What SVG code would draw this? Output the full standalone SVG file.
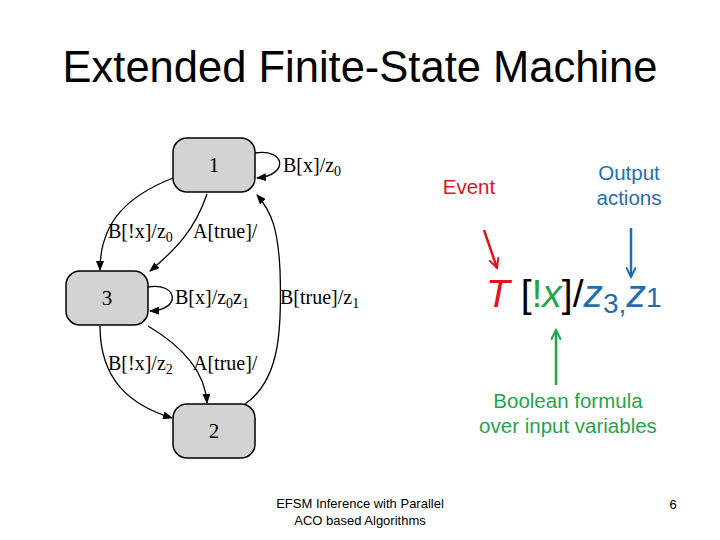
<svg xmlns="http://www.w3.org/2000/svg" width="720" height="540" viewBox="0 0 720 540">
<style>
.node{fill:#d3d3d3;stroke:#000;stroke-width:1.5}
.nl{font-family:"Liberation Serif",serif;font-size:21px;text-anchor:middle}
.el{font-family:"Liberation Serif",serif;font-size:20px}
.e{fill:none;stroke:#000;stroke-width:1.3;marker-end:url(#ah)}
.s{font-family:"Liberation Sans",Arial,sans-serif}
</style>
<defs>
<marker id="ah" markerWidth="10" markerHeight="8" refX="9" refY="4" orient="auto" markerUnits="userSpaceOnUse"><path d="M0,0L10,4L0,8z" fill="#000"/></marker>
<marker id="ar" markerWidth="12" markerHeight="10" refX="10" refY="5" orient="auto" markerUnits="userSpaceOnUse"><path d="M0,0L10,5L0,10" fill="none" stroke="#e0141e" stroke-width="2"/></marker>
<marker id="ab" markerWidth="12" markerHeight="10" refX="10" refY="5" orient="auto" markerUnits="userSpaceOnUse"><path d="M0,0L10,5L0,10" fill="none" stroke="#1f6eb4" stroke-width="2"/></marker>
<marker id="ag" markerWidth="12" markerHeight="10" refX="10" refY="5" orient="auto" markerUnits="userSpaceOnUse"><path d="M0,0L10,5L0,10" fill="none" stroke="#1fa54a" stroke-width="2"/></marker>
</defs>
<rect width="720" height="540" fill="#fff"/>
<text x="360" y="82" class="s" font-size="43.5" text-anchor="middle">Extended Finite-State Machine</text>
<g id="connectors">
<path class="e" d="M255,153 C285,148 290,175 257,178"/>
<path class="e" d="M173,178 C130,195 100,220 100,270"/>
<path class="e" d="M207,194 C195,230 175,250 150,271"/>
<path class="e" d="M148,287 C178,282 182,310 150,311"/>
<path class="e" d="M100,326 C100,380 130,405 172,418"/>
<path class="e" d="M148,326 C180,345 205,370 207,403"/>
<path class="e" d="M245,404 C280,380 282,330 280,270 C278,230 272,212 257,195"/>
<text class="el" x="283" y="172">B[x]/z<tspan font-size="14" dy="4">0</tspan></text>
<text class="el" x="108" y="238">B[!x]/z<tspan font-size="14" dy="4">0</tspan></text>
<text class="el" x="193" y="238">A[true]/</text>
<text class="el" x="175" y="304">B[x]/z<tspan font-size="14" dy="4">0</tspan><tspan dy="-4">z</tspan><tspan font-size="14" dy="4">1</tspan></text>
<text class="el" x="280" y="304">B[true]/z<tspan font-size="14" dy="4">1</tspan></text>
<text class="el" x="108" y="370">B[!x]/z<tspan font-size="14" dy="4">2</tspan></text>
<text class="el" x="193" y="370">A[true]/</text>
</g>
<g id="n1"><rect class="node" x="173" y="138" width="82" height="54" rx="14"/><text class="nl" x="214" y="172">1</text></g>
<g id="n3"><rect class="node" x="66" y="271" width="82" height="54" rx="14"/><text class="nl" x="107" y="305">3</text></g>
<g id="n2"><rect class="node" x="173" y="404" width="82" height="54" rx="14"/><text class="nl" x="214" y="438">2</text></g>
<g id="legend">
<text x="469" y="194" class="s" font-size="20.5" fill="#e0141e" text-anchor="middle">Event</text>
<text x="629" y="180" class="s" font-size="20.5" fill="#1f6eb4" text-anchor="middle">Output</text>
<text x="629" y="205" class="s" font-size="20.5" fill="#1f6eb4" text-anchor="middle">actions</text>
<line x1="484" y1="230" x2="497" y2="268" stroke="#e0141e" stroke-width="2.5" marker-end="url(#ar)"/>
<line x1="631" y1="228" x2="631" y2="277" stroke="#1f6eb4" stroke-width="2.5" marker-end="url(#ab)"/>
<line x1="556" y1="385" x2="556" y2="330" stroke="#1fa54a" stroke-width="2.5" marker-end="url(#ag)"/>
<text x="486" y="307" class="s" font-size="39"><tspan fill="#e0141e" font-style="italic">T</tspan> [<tspan fill="#1fa54a">!<tspan font-style="italic">x</tspan></tspan>]/<tspan fill="#1f6eb4" font-style="italic">z</tspan><tspan fill="#1f6eb4" font-size="28" dy="6">3,</tspan><tspan fill="#1f6eb4" font-style="italic" dy="-6">z</tspan><tspan fill="#1f6eb4" font-size="28" dy="0">1</tspan></text>
<text x="568" y="408" class="s" font-size="20.5" fill="#1fa54a" text-anchor="middle">Boolean formula</text>
<text x="568" y="433" class="s" font-size="20.5" fill="#1fa54a" text-anchor="middle">over input variables</text>
</g>
<text x="360" y="508" class="s" font-size="13" text-anchor="middle">EFSM Inference with Parallel</text>
<text x="360" y="525" class="s" font-size="13" text-anchor="middle">ACO based Algorithms</text>
<text x="673" y="509" class="s" font-size="13" text-anchor="middle">6</text>
</svg>
